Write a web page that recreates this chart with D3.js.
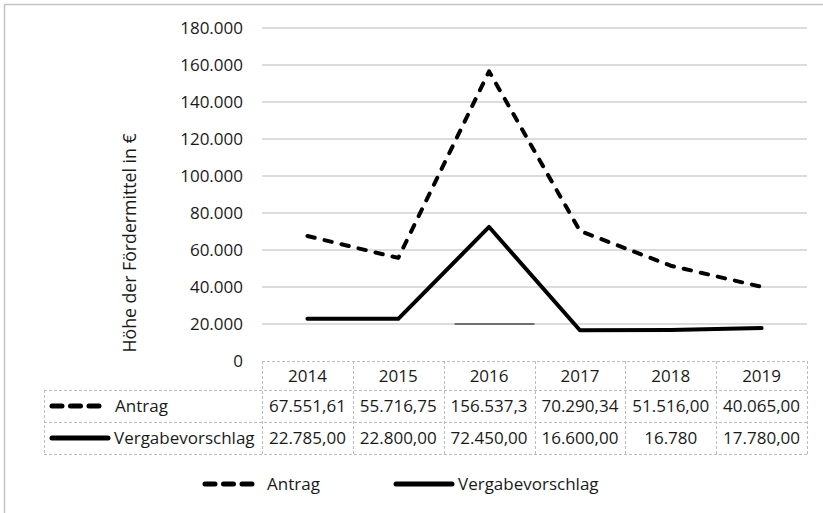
<!DOCTYPE html>
<html><head><meta charset="utf-8">
<script src="https://cdn.jsdelivr.net/npm/d3@7"></script>
<style>
html,body{margin:0;padding:0;background:#fff;}
svg{display:block;font-family:"Open Sans",sans-serif;}
</style></head>
<body>
<svg id="c" width="823" height="513"></svg>
<script>
const years = ["2014","2015","2016","2017","2018","2019"];
const antrag = [67551.61, 55716.75, 156537.3, 70290.34, 51516.00, 40065.00];
const vergabe = [22785.00, 22800.00, 72450.00, 16600.00, 16780.00, 17780.00];
const antragLabels = ["67.551,61","55.716,75","156.537,3","70.290,34","51.516,00","40.065,00"];
const vergabeLabels = ["22.785,00","22.800,00","72.450,00","16.600,00","16.780","17.780,00"];
const seriesNames = ["Antrag","Vergabevorschlag"];
const yTicks = [0,20000,40000,60000,80000,100000,120000,140000,160000,180000];
const yTitle = "Höhe der Fördermittel in €";

const svg = d3.select("#c");
const fs = 17, txt = "#1a1a1a";
const loc = d3.formatLocale({decimal:",", thousands:".", grouping:[3], currency:["","€"]});
const fmt = loc.format(",");

const x = d3.scaleBand().domain(years).range([262, 807]);
const y = d3.scaleLinear().domain([0,180000]).range([361, 28]);

// outer border
svg.append("rect").attr("x",4.5).attr("y",4.5).attr("width",840).attr("height",540)
  .attr("fill","none").attr("stroke","#c4c4c4").attr("stroke-width",1.5);

// gridlines
svg.append("g").selectAll("line").data(yTicks.filter(d=>d>0)).join("line")
  .attr("x1",x.range()[0]).attr("x2",x.range()[1])
  .attr("y1",d=>y(d)).attr("y2",d=>y(d))
  .attr("stroke","#d0d0d0").attr("stroke-width",1.5);
// darker artifact segment on 20.000 line
svg.append("line")
  .attr("x1",x("2016")+x.bandwidth()*0.12).attr("x2",x("2016")+x.bandwidth())
  .attr("y1",y(20000)).attr("y2",y(20000))
  .attr("stroke","#6e6e6e").attr("stroke-width",1.8);

// y axis labels
const yAxis = d3.axisLeft(y).tickValues(yTicks).tickFormat(fmt).tickSize(0).tickPadding(19);
const ga = svg.append("g").attr("transform",`translate(${x.range()[0]},0)`).call(yAxis);
ga.select(".domain").remove();
ga.selectAll("text").attr("font-size",fs).attr("fill",txt).attr("font-family","Open Sans");

// y title
svg.append("text").attr("transform","translate(136,243) rotate(-90)")
  .attr("text-anchor","middle").attr("font-size",17.7).attr("fill",txt).text(yTitle);

// lines
const line = d3.line().x((d,i)=>x(years[i])+x.bandwidth()/2).y(d=>y(d));
svg.append("path").datum(vergabe).attr("d",line).attr("fill","none")
  .attr("stroke","#000").attr("stroke-width",4).attr("stroke-linejoin","round").attr("stroke-linecap","round");
svg.append("path").datum(antrag).attr("d",line).attr("fill","none")
  .attr("stroke","#000").attr("stroke-width",4).attr("stroke-linejoin","round").attr("stroke-linecap","round")
  .attr("stroke-dasharray","7.5,10");

// data table
const tTop = 361, rH = [29, 32, 32];
const tLeft = 44;
const tb = svg.append("g").attr("stroke","#bdbdbd").attr("stroke-width",1).attr("stroke-dasharray","3,2").attr("fill","none");
const r0 = tTop, r1 = tTop+rH[0], r2 = r1+rH[1], r3 = r2+rH[2];
tb.append("line").attr("x1",x.range()[0]).attr("x2",x.range()[1]).attr("y1",r0+0.5).attr("y2",r0+0.5);
[r1,r2,r3].forEach(r=>tb.append("line").attr("x1",tLeft).attr("x2",x.range()[1]).attr("y1",r+0.5).attr("y2",r+0.5));
const colEdges = years.map(yr=>x(yr)).concat([x.range()[1]]);
colEdges.forEach(cx=>tb.append("line").attr("x1",Math.round(cx)+0.5).attr("x2",Math.round(cx)+0.5).attr("y1",r0).attr("y2",r3));
tb.append("line").attr("x1",tLeft+0.5).attr("x2",tLeft+0.5).attr("y1",r1).attr("y2",r3);

const tt = svg.append("g").attr("font-size",fs).attr("fill",txt).attr("text-anchor","middle");
tt.selectAll(".yr").data(years).join("text").attr("class","yr")
  .attr("x",d=>x(d)+x.bandwidth()/2).attr("y",(r0+r1)/2).attr("dy","0.36em").text(d=>d);
tt.selectAll(".a").data(antragLabels).join("text").attr("class","a")
  .attr("x",(d,i)=>x(years[i])+x.bandwidth()/2).attr("y",(r1+r2)/2).attr("dy","0.36em").text(d=>d);
tt.selectAll(".v").data(vergabeLabels).join("text").attr("class","v")
  .attr("x",(d,i)=>x(years[i])+x.bandwidth()/2).attr("y",(r2+r3)/2).attr("dy","0.36em").text(d=>d);

// table legend keys
svg.append("line").attr("x1",52).attr("x2",101).attr("y1",(r1+r2)/2).attr("y2",(r1+r2)/2)
  .attr("stroke","#000").attr("stroke-width",5).attr("stroke-linecap","round").attr("stroke-dasharray","10,8.5");
svg.append("text").attr("x",115).attr("y",(r1+r2)/2).attr("dy","0.36em").attr("font-size",fs).attr("fill",txt).text(seriesNames[0]);
svg.append("line").attr("x1",52).attr("x2",108).attr("y1",(r2+r3)/2).attr("y2",(r2+r3)/2)
  .attr("stroke","#000").attr("stroke-width",5).attr("stroke-linecap","round");
svg.append("text").attr("x",114).attr("y",(r2+r3)/2).attr("dy","0.36em").attr("font-size",fs).attr("fill",txt).text(seriesNames[1]);

// bottom legend
const ly = 484;
svg.append("line").attr("x1",205).attr("x2",253).attr("y1",ly).attr("y2",ly)
  .attr("stroke","#000").attr("stroke-width",5).attr("stroke-linecap","round").attr("stroke-dasharray","10,8.5");
svg.append("text").attr("x",267).attr("y",ly).attr("dy","0.36em").attr("font-size",fs).attr("fill",txt).text(seriesNames[0]);
svg.append("line").attr("x1",396).attr("x2",452).attr("y1",ly).attr("y2",ly)
  .attr("stroke","#000").attr("stroke-width",5).attr("stroke-linecap","round");
svg.append("text").attr("x",458).attr("y",ly).attr("dy","0.36em").attr("font-size",fs).attr("fill",txt).text(seriesNames[1]);
</script>
</body></html>
